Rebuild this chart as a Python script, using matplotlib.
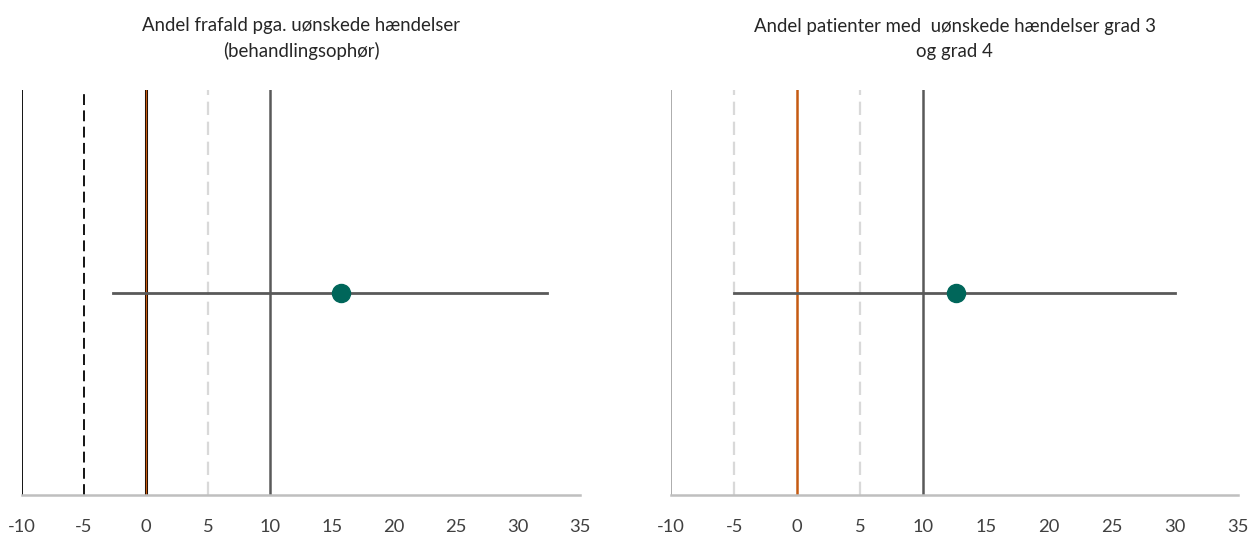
import matplotlib.pyplot as plt

plt.rcParams['font.family'] = ['Lato', 'DejaVu Sans']

titles = ["Andel frafald pga. uønskede hændelser\n(behandlingsophør)",
          "Andel patienter med  uønskede hændelser grad 3\nog grad 4"]
estimates = [15.7, 12.6]
ci_low = [-2.7, -5.0]
ci_high = [32.3, 30.0]
xticks = [-10, -5, 0, 5, 10, 15, 20, 25, 30, 35]

fig = plt.figure(figsize=(12.52, 5.37), dpi=100)
axes = [fig.add_axes([0.0176, 0.078, 0.4457, 0.754]),
        fig.add_axes([0.536, 0.078, 0.453, 0.754])]

for i, ax in enumerate(axes):
    ax.set_xlim(-10, 35)
    ax.set_ylim(0, 1)
    for s in ['top', 'right', 'left']:
        ax.spines[s].set_visible(False)
    ax.spines['bottom'].set_color('#bfbfbf')
    ax.spines['bottom'].set_linewidth(1.8)
    ax.set_yticks([])
    ax.set_xticks(xticks)
    ax.set_xticklabels([str(t) for t in xticks], fontsize=13.2, color='#404040')
    ax.tick_params(axis='x', length=0, pad=17)

    # reference lines
    if i == 0:
        ax.axvline(-10, color='black', lw=1.3)
        ax.axvline(-5, color='black', lw=1.3, ls=(0, (6, 3)))
        ax.axvline(0, color='black', lw=2.2)
        ax.axvline(0, color='#c55a11', lw=1.0)
    else:
        ax.axvline(-10, color='#a6a6a6', lw=1.3)
        ax.axvline(-5, color='#d9d9d9', lw=1.6, ls=(0, (6, 3)))
        ax.axvline(0, color='#c55a11', lw=1.8)
    ax.axvline(5, color='#d9d9d9', lw=1.6, ls=(0, (6, 3)))
    ax.axvline(10, color='#595959', lw=1.8)

    ax.plot([ci_low[i], ci_high[i]], [0.5, 0.5], color='#595959', lw=2, zorder=3)
    ax.plot([estimates[i]], [0.5], 'o', color='#00665a', ms=13, zorder=4)
    ax.set_title(titles[i], fontsize=13.4, color='#262626', pad=24, linespacing=1.55)

fig.savefig('out.png', dpi=100)
